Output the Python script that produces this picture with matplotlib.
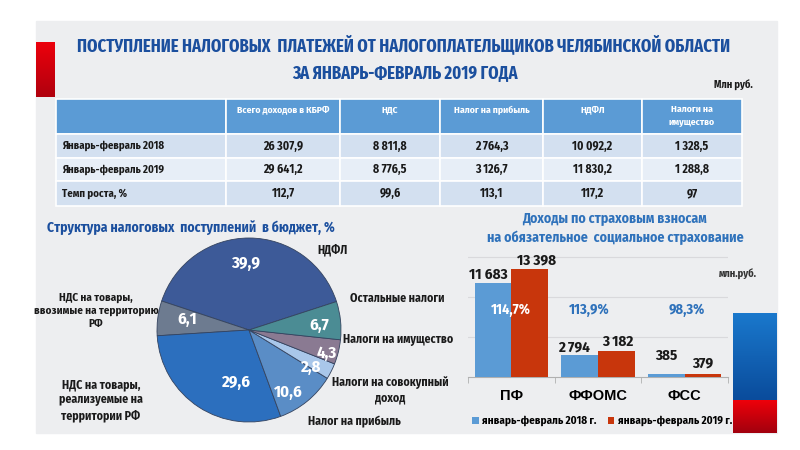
import numpy as np
import matplotlib
matplotlib.use("Agg")
import matplotlib.pyplot as plt
from matplotlib.patches import Rectangle
from matplotlib.colors import LinearSegmentedColormap

# ---------------- DATA ----------------
title_lines = ["ПОСТУПЛЕНИЕ НАЛОГОВЫХ  ПЛАТЕЖЕЙ ОТ НАЛОГОПЛАТЕЛЬЩИКОВ ЧЕЛЯБИНСКОЙ ОБЛАСТИ",
               "ЗА ЯНВАРЬ-ФЕВРАЛЬ 2019 ГОДА"]
units_table = "Млн руб."

col_headers = ["Всего доходов в КБРФ", "НДС", "Налог на прибыль", "НДФЛ", "Налоги на\nимущество"]
row_labels = ["Январь-февраль 2018", "Январь-февраль 2019", "Темп роста, %"]
tab_2018 = [26307.9, 8811.8, 2764.3, 10092.2, 1328.5]
tab_2019 = [29641.2, 8776.5, 3126.7, 11830.2, 1288.8]
tab_growth = [112.7, 99.6, 113.1, 117.2, 97]

pie_title = "Структура налоговых  поступлений  в бюджет, %"
pie_labels = ["НДФЛ", "НДС на товары,\nввозимые на территорию\nРФ",
              "НДС на товары,\nреализуемые на\nтерритории РФ", "Налог на прибыль",
              "Налоги на совокупный\nдоход", "Налоги на имущество", "Остальные налоги"]
pie_values = [39.9, 6.1, 29.6, 10.6, 2.8, 4.3, 6.7]

bar_title = "Доходы по страховым взносам\nна обязательное  социальное страхование"
funds = ["ПФ", "ФФОМС", "ФСС"]
ins_2018 = [11683, 2794, 385]
ins_2019 = [13398, 3182, 379]
ins_growth = [114.7, 113.9, 98.3]
legend_labels = ["январь-февраль 2018 г.", "январь-февраль 2019 г."]
units_bar = "млн.руб."

# ---------------- STYLE ----------------
NARROW = ["Fira Sans Condensed", "PT Sans Narrow", "Roboto Condensed", "DejaVu Sans"]
XNARROW = ["Fira Sans Extra Condensed", "Fira Sans Condensed", "PT Sans Narrow", "DejaVu Sans"]
WIDE = ["Arimo", "Liberation Sans", "DejaVu Sans"]
DARK_BLUE = "#1b4f9e"
MID_BLUE = "#2f72bb"
TXT = "#1a1a1a"
pie_colors = ["#3d5a98", "#6d7b90", "#2c6fbe", "#5a8dc6", "#a9c7ea", "#8a7a92", "#4b8c94"]
c2018, c2019 = "#5b9bd5", "#c8360c"


def fmt(v):
    if float(v).is_integer() and v < 1000:
        return str(int(v))
    return f"{v:,.1f}".replace(",", " ").replace(".", ",")


fig = plt.figure(figsize=(8, 4.5), dpi=100)
fig.patch.set_facecolor("white")

bg = fig.add_axes([0, 0, 1, 1])
bg.axis("off")

# panel
bg.add_patch(Rectangle((36, 21), 741, 412, color="#edeef0", zorder=0))


def gradient(x0, x1, y0, y1, c_top, c_bot):
    cm = LinearSegmentedColormap.from_list("g", [c_top, c_bot])
    g = np.linspace(0, 1, 64).reshape(-1, 1)
    bg.imshow(g, cmap=cm, extent=(x0, x1, y1, y0), aspect="auto", zorder=1,
              interpolation="bilinear")


gradient(36, 55, 42, 97, "#ec000c", "#b0000e")
gradient(733, 777, 313, 400, "#1a78cc", "#0a4c9c")
gradient(733, 777, 400, 433, "#ee000a", "#a2000e")
bg.set_xlim(0, 800)
bg.set_ylim(450, 0)

# title
bg.text(404, 45, title_lines[0], ha="center", va="center", fontsize=13,
        fontweight="bold", color=DARK_BLUE, family=XNARROW)
bg.text(405, 73, title_lines[1], ha="center", va="center", fontsize=13,
        fontweight="bold", color=DARK_BLUE, family=XNARROW)
bg.text(753, 85, units_table, ha="right", va="center", fontsize=7.5,
        fontweight="bold", color=TXT, family=NARROW)

# table
col_edges = [56, 226, 340, 440, 543, 642, 742]
row_edges = [99, 134, 158, 181, 206]
row_fill = ["#5b9bd5", "#d3e0f0", "#e7eef7", "#d3e0f0"]
for r in range(4):
    for c in range(6):
        bg.add_patch(Rectangle((col_edges[c], row_edges[r]),
                               col_edges[c + 1] - col_edges[c],
                               row_edges[r + 1] - row_edges[r],
                               facecolor=row_fill[r], edgecolor="white", lw=1.2, zorder=2))
for c, h in enumerate(col_headers):
    xc = (col_edges[c + 1] + col_edges[c + 2]) / 2
    yc = 116 if "\n" in h else 110
    bg.text(xc, yc, h, ha="center", va="center",
            fontsize=7, fontweight="bold", color="white", family=NARROW, zorder=3,
            linespacing=1.6)
rows = [tab_2018, tab_2019, tab_growth]
for r in range(3):
    yc = (row_edges[r + 1] + row_edges[r + 2]) / 2
    bg.text(62, yc, row_labels[r], ha="left", va="center", fontsize=7.8,
            fontweight="bold", color=TXT, family=NARROW, zorder=3)
    for c, v in enumerate(rows[r]):
        xc = (col_edges[c + 1] + col_edges[c + 2]) / 2
        bg.text(xc, yc, fmt(v), ha="center", va="center", fontsize=8.5,
                fontweight="bold", color=TXT, family=NARROW, zorder=3)

# pie title
bg.text(47, 228, pie_title, ha="left", va="center", fontsize=9.8,
        fontweight="bold", color=DARK_BLUE, family=NARROW)

# ---------------- PIE ----------------
cx, cy, R = 249, 330, 92
pax = fig.add_axes([(cx - R) / 800, 1 - (cy + R) / 450, 2 * R / 800, 2 * R / 450])
wedges, _ = pax.pie(pie_values, colors=pie_colors, startangle=18, counterclock=True,
                    wedgeprops=dict(edgecolor="#34435f", linewidth=0.6))
pax.set_aspect("equal")
pax.set_xlim(-1, 1)
pax.set_ylim(-1, 1)

lab_r = [0.73, 0.68, 0.59, 0.80, 0.79, 0.88, 0.77]
lab_dth = [3, -2, 20, -7, -4, -3, -2]
for w, v, rr, dth in zip(wedges, pie_values, lab_r, lab_dth):
    th = np.deg2rad((w.theta1 + w.theta2) / 2 + dth)
    pax.text(rr * np.cos(th), rr * np.sin(th), f"{v:.1f}".replace(".", ","),
             ha="center", va="center", fontsize=12, fontweight="bold",
             color="white", family=NARROW)

ext_pos = [(333, 250), (96, 311), (101, 400), (354, 422), (390, 390), (398, 340), (397, 298)]
ext_fs = [8.5, 8.0, 8.5, 8.5, 8.5, 8.5, 8.5]
for lab, (x, y), fs in zip(pie_labels, ext_pos, ext_fs):
    bg.text(x, y, lab, ha="center", va="center", fontsize=fs, fontweight="bold",
            color=TXT, family=NARROW, linespacing=1.3, zorder=5)

# ---------------- BARS ----------------
bg.text(615, 228, bar_title, ha="center", va="center", fontsize=10,
        fontweight="bold", color=MID_BLUE, family=NARROW, linespacing=1.55)
bg.text(738, 274, units_bar, ha="center", va="center", fontsize=7.5,
        fontweight="bold", color="#333333", family=NARROW)

y_base, ppu = 377, 124.5
ymax = 16000
bax = fig.add_axes([468 / 800, 1 - y_base / 450, 260 / 800, (ymax / ppu) / 450])
bax.patch.set_alpha(0)
x = np.arange(len(funds))
bw = 0.425
b1 = bax.bar(x - bw / 2, ins_2018, bw, color=c2018, zorder=3)
b2 = bax.bar(x + bw / 2, ins_2019, bw, color=c2019, zorder=3)
bax.set_xlim(-0.5, 2.5)
bax.set_ylim(0, ymax)
bax.set_yticks([5000, 10000, 15000])
bax.yaxis.grid(True, color="#d9d9dc", lw=0.8, zorder=0)
bax.tick_params(axis="y", length=0, labelleft=False)
for s in ["top", "right", "left"]:
    bax.spines[s].set_visible(False)
bax.spines["bottom"].set_color("#b0b0b0")
bax.set_xticks(x)
bax.set_xticklabels(funds, fontsize=10.5, fontweight="bold", family=WIDE, color="black")
bax.tick_params(axis="x", which="major", length=0, pad=9)
bax.set_xticks([-0.5, 0.5, 1.5, 2.5], minor=True)
bax.tick_params(axis="x", which="minor", length=4, color="#b0b0b0")

off_2018 = [(-3, 6.3), (-4, 5.5), (0, 13)]
off_2019 = [(5, 6.8), (1, 6.8), (0, 7.9)]
for rects, vals, offs in [(b1, ins_2018, off_2018), (b2, ins_2019, off_2019)]:
    for rect, v, o in zip(rects, vals, offs):
        bax.annotate(f"{v:,}".replace(",", " "), (rect.get_x() + rect.get_width() / 2, v),
                     xytext=o, textcoords="offset points", ha="center", va="center",
                     fontsize=10.8, fontweight="bold", color=TXT, family=NARROW)

pct_dx = [0, -0.1, 0.02]
pct_col = ["white", MID_BLUE, MID_BLUE]
for i, (g, dx, col) in enumerate(zip(ins_growth, pct_dx, pct_col)):
    bax.text(i + dx, 8300, f"{g:.1f}%".replace(".", ","), ha="center", va="center",
             fontsize=10.3, fontweight="bold", color=col, family=NARROW, zorder=5)

leg = fig.legend([b1, b2], legend_labels, loc="center", ncol=2,
                 bbox_to_anchor=(602 / 800, 1 - 421 / 450), frameon=False,
                 handlelength=0.6, handleheight=0.6, handletextpad=0.3,
                 columnspacing=1.0, prop=dict(family=NARROW, weight="bold", size=8))

fig.savefig("out.png", dpi=100, facecolor="white")
